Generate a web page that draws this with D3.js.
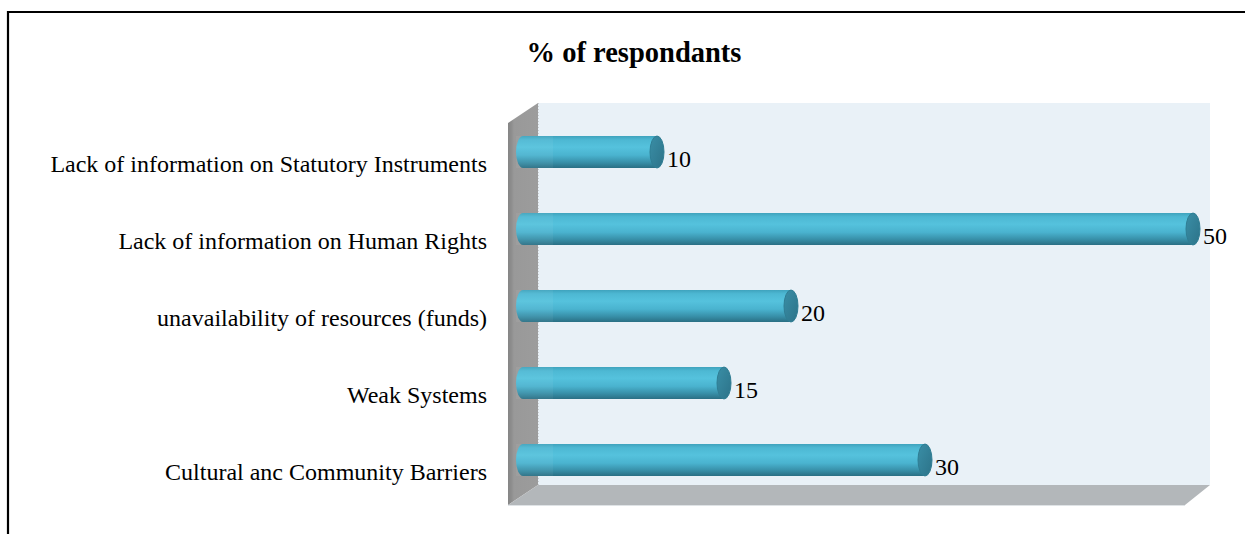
<!DOCTYPE html>
<html>
<head>
<meta charset="utf-8">
<script src="https://cdn.jsdelivr.net/npm/d3@7"></script>
<style>
  html, body { margin: 0; padding: 0; background: #fff; }
  svg { display: block; }
  text { font-family: "Liberation Serif", "Times New Roman", serif; fill: #000; }
</style>
</head>
<body>
<svg id="chart" width="1245" height="534"></svg>
<script>
// Categories top to bottom and their percentages
const categories = [
  "Lack of information on Statutory Instruments",
  "Lack of information on Human Rights",
  "unavailability of resources (funds)",
  "Weak Systems",
  "Cultural anc Community Barriers"
];
const values = [10, 50, 20, 15, 30];
const title = "% of respondants";
const xDomain = [0, 50];

const svg = d3.select("#chart");

// Outer frame (only top and left edges fall inside the page)
svg.append("path")
  .attr("d", "M8,540 L8,12 L1250,12")
  .attr("fill", "none")
  .attr("stroke", "#000")
  .attr("stroke-width", 2.2);

// 3D plot geometry: front plane and depth offset
const front = { left: 508, right: 1180, top: 123, bottom: 505 };
const depth = { dx: 30, dy: -20 };
const mid = { dx: depth.dx / 2, dy: depth.dy / 2 };

const x = d3.scaleLinear()
  .domain(xDomain)
  .range([front.left + mid.dx, front.right + mid.dx - 2]);

const y = d3.scaleBand()
  .domain(categories)
  .range([113.5, 498.5])
  .paddingInner(0)
  .paddingOuter(0);

const defs = svg.append("defs");

// Cylinder body shading
const bodyGrad = defs.append("linearGradient")
  .attr("id", "body").attr("x1", 0).attr("y1", 0).attr("x2", 0).attr("y2", 1);
[
  [0, "#3fa3bd"], [0.12, "#4db8d3"], [0.35, "#55c2dd"], [0.6, "#4ab3cf"],
  [0.82, "#3890a9"], [1, "#2a6f84"]
].forEach(([o, c]) => bodyGrad.append("stop").attr("offset", o).attr("stop-color", c));

const capGrad = defs.append("linearGradient")
  .attr("id", "cap").attr("x1", 0).attr("y1", 0).attr("x2", 1).attr("y2", 1);
[[0, "#3a8ea6"], [1, "#2c7389"]]
  .forEach(([o, c]) => capGrad.append("stop").attr("offset", o).attr("stop-color", c));

const wallGrad = defs.append("linearGradient")
  .attr("id", "wall").attr("x1", 0).attr("y1", 0).attr("x2", 1).attr("y2", 0);
[[0, "#858585"], [0.12, "#8e8e8e"], [0.2, "#999999"], [1, "#9c9c9c"]]
  .forEach(([o, c]) => wallGrad.append("stop").attr("offset", o).attr("stop-color", c));

// Back wall
const back = {
  left: front.left + depth.dx, right: front.right + depth.dx,
  top: front.top + depth.dy, bottom: front.bottom + depth.dy
};
svg.append("rect")
  .attr("x", back.left).attr("y", back.top)
  .attr("width", back.right - back.left).attr("height", back.bottom - back.top)
  .attr("fill", "#e9f1f7");

// Side wall (left)
svg.append("path")
  .attr("d", `M${front.left},${front.top} L${back.left},${back.top} L${back.left},${back.bottom} L${front.left},${front.bottom} Z`)
  .attr("fill", "url(#wall)");
svg.append("line")
  .attr("x1", back.left + 0.5).attr("x2", back.left + 0.5)
  .attr("y1", back.top).attr("y2", back.bottom)
  .attr("stroke", "#c8ccd0").attr("stroke-width", 1).attr("stroke-dasharray", "1,2");

// Floor
svg.append("path")
  .attr("d", `M${front.left},${front.bottom} L${back.left},${back.bottom} L${back.right},${back.bottom} L${front.right + 5},${front.bottom} Z`)
  .attr("fill", "#b3b7ba");
svg.append("line")
  .attr("x1", front.left).attr("x2", front.right + 5)
  .attr("y1", front.bottom + 0.5).attr("y2", front.bottom + 0.5)
  .attr("stroke", "#dfe3e6").attr("stroke-width", 1);

// Title
svg.append("text")
  .attr("x", 634).attr("y", 62)
  .attr("text-anchor", "middle")
  .attr("font-size", 28.5).attr("font-weight", "bold")
  .text(title);

// Category labels
svg.append("g").selectAll("text")
  .data(categories)
  .join("text")
  .attr("x", 487)
  .attr("y", d => y(d) + y.bandwidth() / 2 + 20)
  .attr("text-anchor", "end")
  .attr("font-size", 24)
  .text(d => d);

// Cylinders
const barH = 32;
const capRx = 7;
const rows = categories.map((c, i) => ({ c, v: values[i] }));

const bars = svg.append("g").selectAll("g")
  .data(rows)
  .join("g")
  .attr("transform", d => `translate(0,${y(d.c) + y.bandwidth() / 2})`);

// Body: left rounded end then straight to the right cap center
bars.append("path")
  .attr("d", d => {
    const x0 = x(0), x1 = x(d.v), h = barH / 2;
    return `M${x1},${-h} L${x0},${-h} A${capRx},${h} 0 0 0 ${x0},${h} L${x1},${h} Z`;
  })
  .attr("fill", "url(#body)");

// Faint seam where the bar leaves the side wall
bars.append("rect")
  .attr("x", x(0) - capRx)
  .attr("y", -barH / 2)
  .attr("width", back.left + 15 - (x(0) - capRx))
  .attr("height", barH)
  .attr("fill", "#ffffff")
  .attr("opacity", 0.05)
  .attr("clip-path", null);

// Right end cap
bars.append("ellipse")
  .attr("cx", d => x(d.v))
  .attr("cy", 0)
  .attr("rx", capRx)
  .attr("ry", barH / 2)
  .attr("fill", "url(#cap)")
  .attr("stroke", "#2f7d93")
  .attr("stroke-width", 1);

// Value labels
bars.append("text")
  .attr("x", d => x(d.v) + capRx + 3)
  .attr("y", 15)
  .attr("font-size", 24)
  .text(d => d.v);
</script>
</body>
</html>
